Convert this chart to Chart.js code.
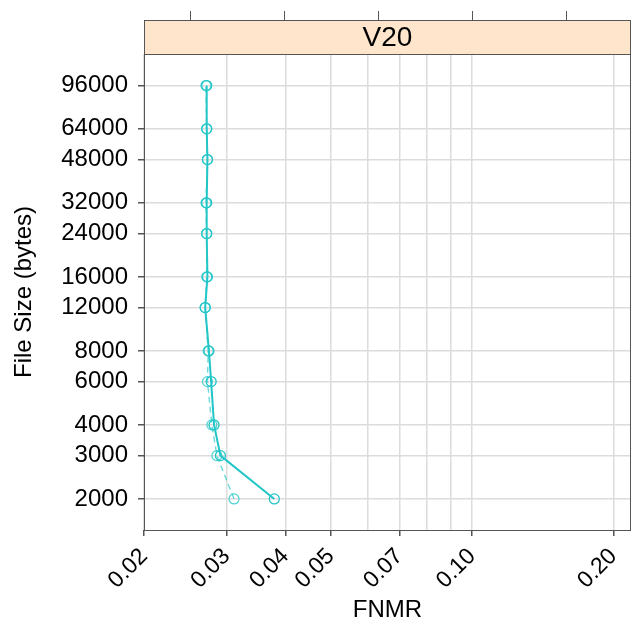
<!DOCTYPE html>
<html>
<head>
<meta charset="utf-8">
<script src="https://cdn.jsdelivr.net/npm/chart.js@4"></script>
<style>
  body { margin: 0; background: #fff; }
  #wrap { width: 632px; height: 622px; }
</style>
</head>
<body>
<div id="wrap"><canvas id="chart"></canvas></div>
<script>
// file sizes (bytes) and FNMR per size
const fileSizes = [2000, 3000, 4000, 6000, 8000, 12000, 16000, 24000, 32000, 48000, 64000, 96000];
const fnmrSolid = [0.0379, 0.0291, 0.0282, 0.0278, 0.0275, 0.0270, 0.0273, 0.0272, 0.0272, 0.0273, 0.0272, 0.0272];
const fnmrDashed = [0.0311, 0.0286, 0.0279, 0.0273, 0.0274, 0.0270, 0.0272, 0.0272, 0.0271, 0.0273, 0.0272, 0.0271];

const yTicks = [2000, 3000, 4000, 6000, 8000, 12000, 16000, 24000, 32000, 48000, 64000, 96000];
const xGrid = [0.02, 0.03, 0.04, 0.05, 0.06, 0.07, 0.08, 0.09, 0.10, 0.20];
const xLabels = ['0.02', '0.03', '0.04', '0.05', '', '0.07', '', '', '0.10', '0.20'];
const topTicks = [0.0251, 0.0398, 0.0631, 0.1, 0.1585];
const panelName = 'V20';

const teal = '#22c6c8';
const font = 'Liberation Sans, Arial, sans-serif';

const toPoints = (xs) => xs.map((x, i) => ({ x, y: fileSizes[i] }));

const panelPlugin = {
  id: 'panel',
  afterDraw(chart) {
    const { ctx, chartArea: a, scales } = chart;
    ctx.save();
    // strip
    ctx.fillStyle = '#ffe5cc';
    ctx.fillRect(a.left, 20, a.right - a.left, a.top - 20);
    ctx.strokeStyle = '#555';
    ctx.lineWidth = 1;
    ctx.strokeRect(a.left + 0.5, 20.5, a.right - a.left - 1, a.top - 20);
    ctx.fillStyle = '#000';
    ctx.font = '28px ' + font;
    ctx.textAlign = 'center';
    ctx.textBaseline = 'middle';
    ctx.fillText(panelName, (a.left + a.right) / 2, (20 + a.top) / 2 + 1);
    // top ticks
    ctx.beginPath();
    topTicks.forEach((v) => {
      const px = Math.round(scales.x.getPixelForValue(v)) + 0.5;
      ctx.moveTo(px, 11);
      ctx.lineTo(px, 20);
    });
    ctx.stroke();
    // panel border
    ctx.strokeRect(a.left + 0.5, a.top + 0.5, a.right - a.left - 1, a.bottom - a.top);
    ctx.restore();
  }
};

new Chart(document.getElementById('chart'), {
  type: 'scatter',
  data: {
    datasets: [
      {
        data: toPoints(fnmrSolid),
        showLine: true,
        borderColor: teal,
        borderWidth: 2,
        pointRadius: 5,
        pointBorderWidth: 1.3,
        pointBackgroundColor: 'transparent',
        pointBorderColor: teal
      },
      {
        data: toPoints(fnmrDashed),
        showLine: true,
        borderColor: 'rgba(34,198,200,0.65)',
        borderWidth: 1.4,
        borderDash: [6, 4],
        pointRadius: 5,
        pointBorderWidth: 1.2,
        pointBackgroundColor: 'transparent',
        pointBorderColor: 'rgba(34,198,200,0.8)'
      }
    ]
  },
  options: {
    responsive: true,
    maintainAspectRatio: false,
    animation: false,
    layout: { autoPadding: false, padding: { top: 54, right: 1, left: 0, bottom: 0 } },
    plugins: { legend: { display: false }, tooltip: { enabled: false } },
    scales: {
      x: {
        type: 'logarithmic',
        min: 0.02,
        max: 0.218,
        afterBuildTicks: (s) => { s.ticks = xGrid.map((v) => ({ value: v })); },
        afterFit: (s) => { s.height = 92; s.paddingLeft = 0; s.paddingRight = 0; },
        ticks: {
          autoSkip: false,
          minRotation: 45,
          maxRotation: 45,
          padding: 7,
          color: '#000',
          font: { family: font, size: 23 },
          callback: (v, i) => xLabels[i]
        },
        grid: {
          color: '#dcdcdc',
          lineWidth: 1.5,
          tickLength: 6,
          tickColor: (c) => (xLabels[c.index] ? '#555' : 'rgba(0,0,0,0)')
        },
        border: { display: false },
        title: {
          display: true,
          text: 'FNMR',
          color: '#000',
          font: { family: font, size: 24, lineHeight: 1 },
          padding: { top: 0, bottom: 0 }
        }
      },
      y: {
        type: 'logarithmic',
        min: 1495,
        max: 129000,
        afterBuildTicks: (s) => { s.ticks = yTicks.map((v) => ({ value: v })); },
        afterFit: (s) => { s.width = 144; s.paddingTop = 0; s.paddingBottom = 0; },
        ticks: {
          autoSkip: false,
          padding: 10,
          color: '#000',
          font: { family: font, size: 24 },
          callback: (v) => String(v)
        },
        grid: {
          color: '#dcdcdc',
          lineWidth: 1.5,
          tickLength: 6,
          tickColor: '#555'
        },
        border: { display: false },
        title: {
          display: true,
          text: 'File Size (bytes)',
          color: '#000',
          font: { family: font, size: 24, lineHeight: 1 },
          padding: { top: 12, bottom: 0 }
        }
      }
    }
  },
  plugins: [panelPlugin]
});
</script>
</body>
</html>
